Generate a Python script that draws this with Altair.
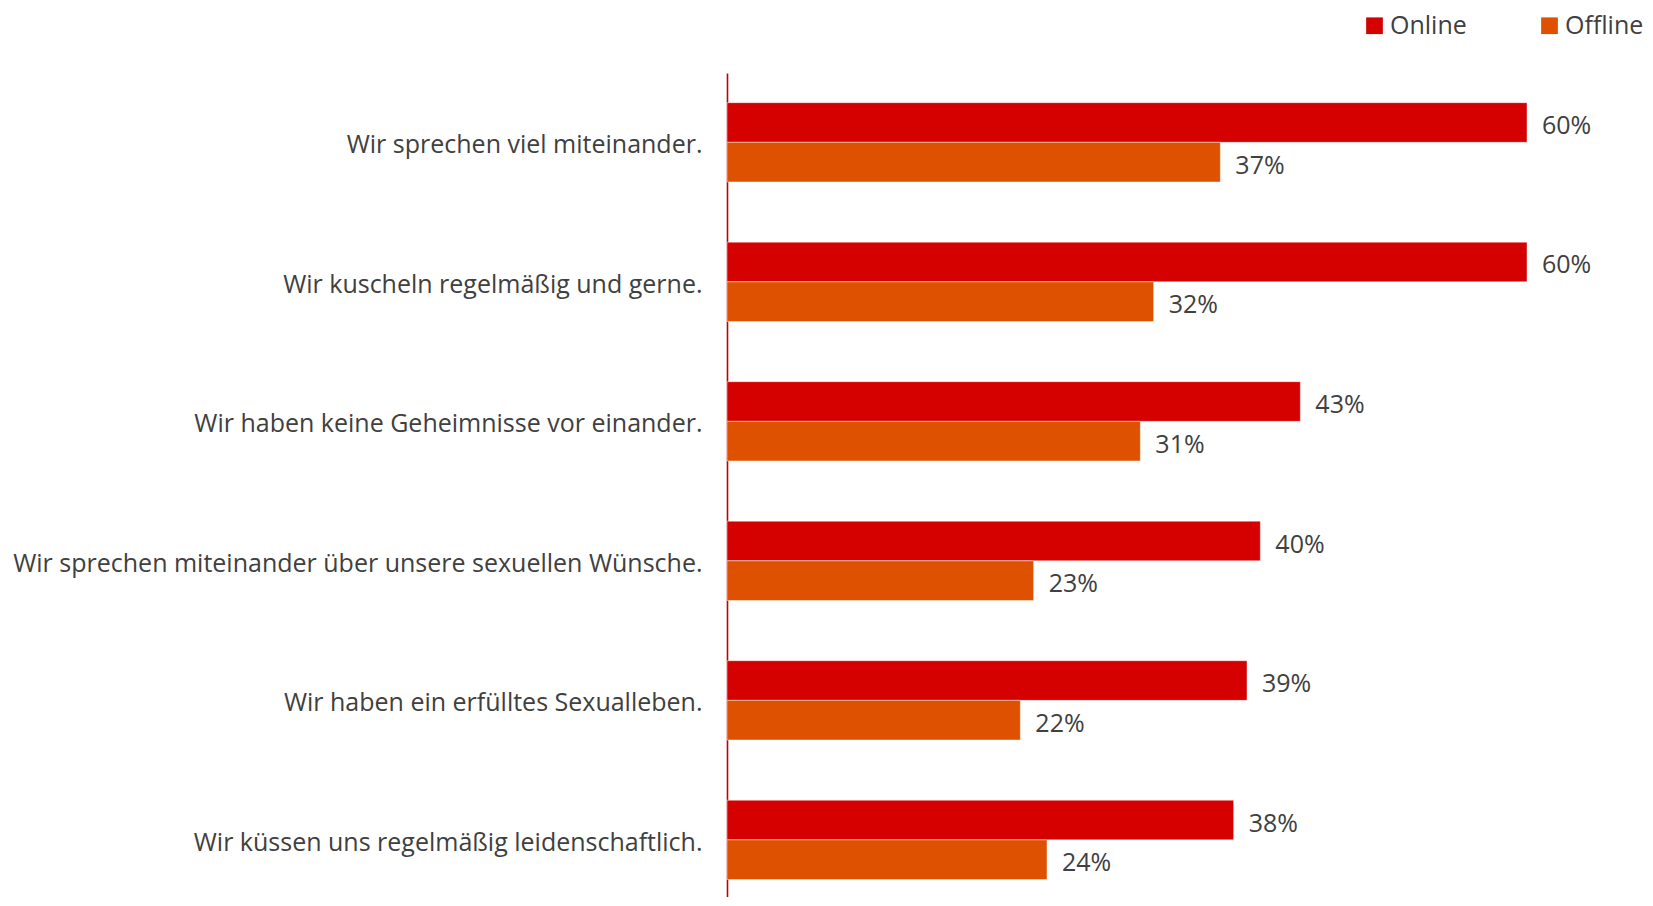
import altair as alt
import pandas as pd

categories = [
    "Wir sprechen viel miteinander.",
    "Wir kuscheln regelmäßig und gerne.",
    "Wir haben keine Geheimnisse vor einander.",
    "Wir sprechen miteinander über unsere sexuellen Wünsche.",
    "Wir haben ein erfülltes Sexualleben.",
    "Wir küssen uns regelmäßig leidenschaftlich.",
]
online = [60, 60, 43, 40, 39, 38]
offline = [37, 32, 31, 23, 22, 24]
series = ["Online", "Offline"]
colors = ["#D50000", "#DD5100"]

rows = []
for c, on, off in zip(categories, online, offline):
    rows.append({"cat": c, "series": "Online", "value": on})
    rows.append({"cat": c, "series": "Offline", "value": off})
df = pd.DataFrame(rows)

FONT = "Open Sans"
TXT = "#404040"
FS = 25

y = alt.Y(
    "cat:N",
    sort=categories,
    scale=alt.Scale(paddingInner=0.4315, paddingOuter=0.169, align=0.629),
    axis=alt.Axis(
        title=None,
        ticks=False,
        grid=False,
        domainColor="#C00000",
        domainWidth=1.6,
        labelPadding=25,
        labelOffset=3,
        labelFontSize=FS,
        labelFont=FONT,
        labelColor=TXT,
        labelLimit=800,
    ),
)
yoff = alt.YOffset("series:N", sort=series, scale=alt.Scale(domain=series, paddingInner=0, paddingOuter=0))
x = alt.X("value:Q", scale=alt.Scale(domain=[0, 67.8], nice=False, zero=True), axis=None)

bars = alt.Chart(df).mark_bar(stroke="#ffffff", strokeOpacity=0.45, strokeWidth=1).encode(
    x=x,
    y=y,
    yOffset=yoff,
    color=alt.Color(
        "series:N",
        sort=series,
        scale=alt.Scale(domain=series, range=colors),
        legend=alt.Legend(
            title=None,
            orient="none",
            direction="horizontal",
            columns=2,
            legendX=635,
            legendY=-60,
            symbolType="square",
            symbolSize=279,
            symbolStrokeWidth=0,
            labelFontSize=FS,
            labelFont=FONT,
            labelColor=TXT,
            labelOffset=3,
            labelLimit=300,
            columnPadding=70,
        ),
    ),
)

labels = alt.Chart(df).transform_calculate(lbl="datum.value + '%'").mark_text(
    align="left", baseline="middle", dx=15, dy=3.5, fontSize=FS, font=FONT, color=TXT
).encode(
    x=x,
    y=y,
    yOffset=yoff,
    text="lbl:N",
)

chart = (
    alt.layer(bars, labels)
    .properties(
        width=904,
        height=824,
        background="#ffffff",
        autosize=alt.AutoSizeParams(type="none"),
        padding={"left": 719, "top": 65, "right": 14, "bottom": 0},
    )
    .configure_view(strokeWidth=0, stroke=None)
)

chart.save("out.html", embed_options={"renderer": "svg", "actions": False})
